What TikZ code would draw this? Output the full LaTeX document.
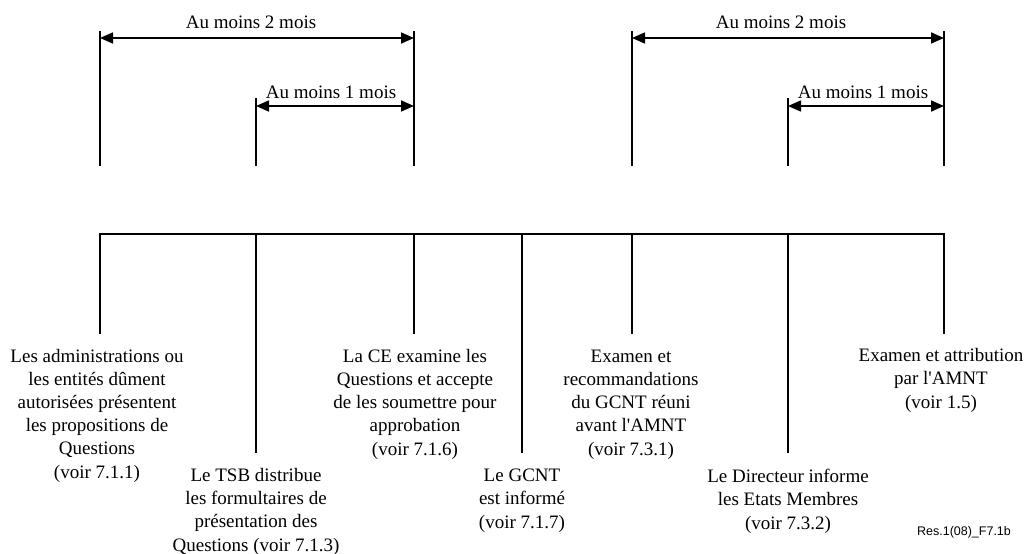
\documentclass[tikz,border=0pt]{standalone}
\usepackage{fontspec}
\setmainfont{Liberation Serif}
\newfontfamily\ressans{Liberation Sans}
\usetikzlibrary{arrows.meta}
\begin{document}
\begin{tikzpicture}[x=1pt,y=-1pt,
  rule/.style={line width=1.8pt,line join=miter},
  span/.style={line width=1.6pt,{Triangle[length=13pt,width=11pt]}-{Triangle[length=13pt,width=11pt]}},
  lbl/.style={font=\fontsize{19}{23.2}\selectfont,align=center,inner sep=0pt,anchor=base},
  tag/.style={font=\ressans\fontsize{12.5}{14}\selectfont,inner sep=0pt,anchor=base}]
\useasboundingbox (0,0) rectangle (1029,554);
% upper ticks
\foreach \n/\x/\y in {1/100/31,2/256/98,3/414/31,5/632/31,6/788/98,7/944/31}{
  \coordinate (u\n) at (\x,\y);
  \coordinate (v\n) at (\x,166);
}
\foreach \n in {1,2,3,5,6,7}{ \draw[rule] (u\n) -- (v\n); }
% timeline and lower ticks
\foreach \n/\x/\y in {1/100/334,2/256/453,3/414/334,4/522/453,5/632/334,6/788/453,7/944/334}{
  \coordinate (m\n) at (\x,234);
  \coordinate (d\n) at (\x,\y);
}
\draw[rule] (d1) -- (m1) -- (m7) -- (d7);
\foreach \n in {2,3,4,5,6}{ \draw[rule] (m\n) -- (d\n); }
% spans
\coordinate (p1) at (100,38); \coordinate (p3) at (414,38);
\coordinate (q2) at (256,106); \coordinate (q3) at (414,106);
\coordinate (p5) at (632,38); \coordinate (p7) at (944,38);
\coordinate (q6) at (788,106); \coordinate (q7) at (944,106);
\draw[span] (p1) -- (p3);
\draw[span] (q2) -- (q3);
\draw[span] (p5) -- (p7);
\draw[span] (q6) -- (q7);
\node[lbl] (s1) at (251,28) {Au moins 2 mois};
\node[lbl] (s2) at (331,98) {Au moins 1 mois};
\node[lbl] (s3) at (781,28) {Au moins 2 mois};
\node[lbl] (s4) at (863,98) {Au moins 1 mois};
% step labels (base = baseline of last line)
\node[lbl] (b1) at (97,478) {Les administrations ou\\les entités dûment\\autorisées présentent\\les propositions de\\Questions\\(voir 7.1.1)};
\node[lbl] (b2) at (256,551) {Le TSB distribue\\les formultaires de\\présentation des\\Questions (voir 7.1.3)};
\node[lbl] (b3) at (415,455) {La CE examine les\\Questions et accepte\\de les soumettre pour\\approbation\\(voir 7.1.6)};
\node[lbl] (b4) at (522,528) {Le GCNT\\est informé\\(voir 7.1.7)};
\node[lbl] (b5) at (631,455) {Examen et\\recommandations\\du GCNT réuni\\avant l\textquotesingle AMNT\\(voir 7.3.1)};
\node[lbl] (b6) at (788,529) {Le Directeur informe\\les Etats Membres\\(voir 7.3.2)};
\node[lbl] (b7) at (941,408) {Examen et attribution\\par l\textquotesingle AMNT\\(voir 1.5)};
\node[tag] (ref) at (964,535) {Res.1(08)\_F7.1b};
\end{tikzpicture}
\end{document}
